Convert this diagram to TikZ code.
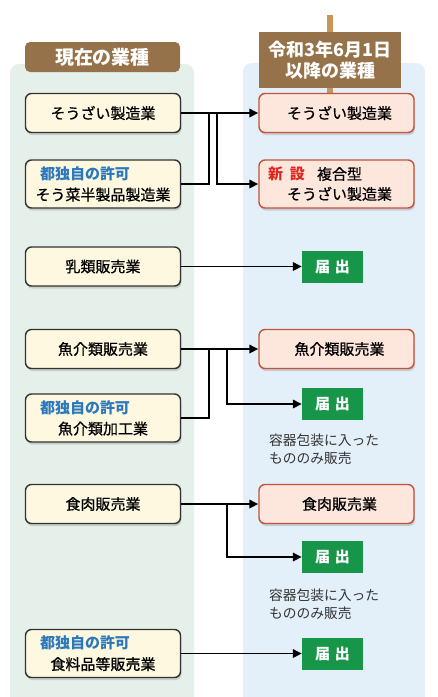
\documentclass[tikz,border=0pt]{standalone}
\usepackage{fontspec}
\setmainfont{Noto Sans CJK JP}
\newfontfamily\medfont{Noto Sans CJK JP}[FakeBold=0.7]
\usetikzlibrary{arrows.meta,shadows}
\definecolor{leftbg}{HTML}{E5F0EA}
\definecolor{rightbg}{HTML}{E3F0FA}
\definecolor{cream}{HTML}{FDF8DF}
\definecolor{pinkfill}{HTML}{FDE7DD}
\definecolor{pinkline}{HTML}{C4533B}
\definecolor{fdgreen}{HTML}{17964A}
\definecolor{permblue}{HTML}{2B78BD}
\definecolor{newred}{HTML}{E0251F}
\definecolor{board}{HTML}{957249}
\definecolor{post}{HTML}{C89658}
\definecolor{notegray}{HTML}{333333}

\newcommand{\permit}{\makebox[126pt][l]{\textcolor{permblue}{\normalfont\bfseries 都独自の許可}}}

\begin{document}
\begin{tikzpicture}[x=1pt, y=-1pt,
  oldbiz/.style={draw=black!80, line width=1.4pt, fill=cream, rounded corners=6pt,
    minimum width=155pt, minimum height=39pt, align=center, inner sep=0pt,
    font=\fontsize{15}{21}\selectfont\medfont,
    drop shadow={shadow xshift=1pt, shadow yshift=-2.5pt, opacity=0.3}},
  newbiz/.style={oldbiz, draw=pinkline, fill=pinkfill},
  fdbox/.style={fill=fdgreen, text=white, minimum width=61pt, minimum height=32pt,
    inner sep=0pt, font=\fontsize{15}{18}\selectfont\bfseries},
  note/.style={text=notegray, align=left, anchor=west, inner sep=0pt,
    font=\fontsize{13.75}{18}\selectfont},
  sign/.style={fill=board, text=white, align=center, inner sep=0pt},
  link/.style={line width=1.7pt},
  flow/.style={link, -{Triangle[length=9pt,width=8.5pt]}}]
\useasboundingbox (0,0) rectangle (438,697);
\fill[white] (0,0) rectangle (438,697);

% columns
\fill[leftbg, rounded corners=9pt] (10,64) rectangle (194,720);
\fill[rightbg, rounded corners=9pt] (243,63) rectangle (425,720);

% headers
\node[sign, rounded corners=5pt, minimum width=155pt, minimum height=30pt,
  font=\fontsize{19}{21}\selectfont\bfseries] (hdnow) at (102.5,57) {現在の業種};
\fill[post] (327,15) rectangle (333,96);
\node[sign, minimum width=142pt, minimum height=56pt,
  font=\fontsize{18}{21}\selectfont\bfseries] (hdnew) at (330,60) {令和3年6月1日\\以降の業種};

% current businesses
\node[oldbiz] (s1) at (103,113) {そうざい製造業};
\node[oldbiz, minimum height=48pt] (s2) at (103,184) {\permit\\そう菜半製品製造業};
\node[oldbiz] (s3) at (103,266.5) {乳類販売業};
\node[oldbiz] (s4) at (103,349) {魚介類販売業};
\node[oldbiz, minimum height=48pt] (s5) at (103,418) {\permit\\魚介類加工業};
\node[oldbiz] (s6) at (103,504) {食肉販売業};
\node[oldbiz, minimum height=48pt] (s7) at (103,653.5) {\permit\\食料品等販売業};

% businesses from June 2021
\node[newbiz] (r1) at (336.5,113) {\hspace*{6pt}そうざい製造業};
\node[newbiz, minimum height=48pt, font=\fontsize{15}{20}\selectfont\medfont] (r2) at (336.5,184)
  {\makebox[137pt][l]{\textcolor{newred}{\normalfont\bfseries 新\hspace{7pt}設}\hspace{12pt}複合型}\\\hspace*{6pt}そうざい製造業};
\node[newbiz] (r4) at (336.5,349) {\hspace*{6pt}魚介類販売業};
\node[newbiz] (r6) at (336.5,504) {\hspace*{6pt}食肉販売業};

\node[fdbox] (fd1) at (332.5,266.5) {届\hspace{5pt}出};
\node[fdbox] (fd2) at (332.5,404) {届\hspace{5pt}出};
\node[fdbox] (fd3) at (332.5,557) {届\hspace{5pt}出};
\node[fdbox] (fd4) at (332.5,653.5) {届\hspace{5pt}出};

\node[note] (n2) at (269,449) {容器包装に入った\\もののみ販売};
\node[note] (n3) at (269,604) {容器包装に入った\\もののみ販売};

% connectors
\coordinate (j1) at (209,113);
\coordinate (j2) at (217,113);
\coordinate (j3) at (209,349);
\coordinate (j4) at (227,349);
\coordinate (j5) at (227,504);

\draw[flow] (s1) -- (r1);
\draw[link] (s2.east) -| (j1);
\draw[flow] (j2) |- (r2.west);
\draw[flow] (s3) -- (fd1);
\draw[flow] (s4) -- (r4);
\draw[link] (s5.east) -| (j3);
\draw[flow] (j4) |- (fd2.west);
\draw[flow] (s6) -- (r6);
\draw[flow] (j5) |- (fd3.west);
\draw[flow] (s7) -- (fd4);
\end{tikzpicture}
\end{document}
